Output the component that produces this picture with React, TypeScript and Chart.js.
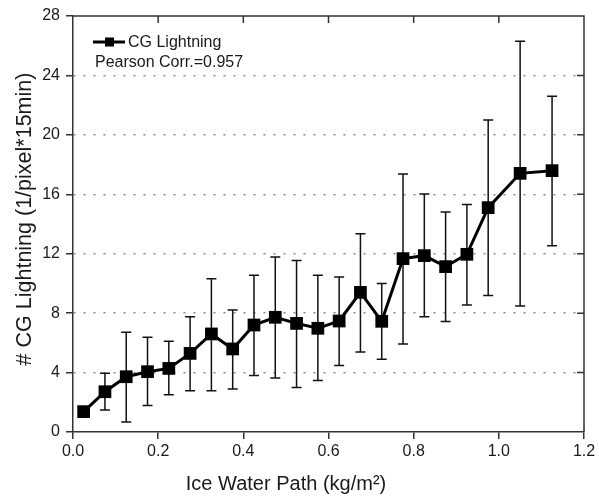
import React, { useEffect, useRef } from "react";
import { Chart, registerables } from "chart.js";

Chart.register(...registerables);

// Ice water path bin centres (kg/m^2)
const iwpBins = [
  0.025, 0.075, 0.125, 0.175, 0.225, 0.275, 0.325, 0.375, 0.425, 0.475, 0.525,
  0.575, 0.625, 0.675, 0.725, 0.775, 0.825, 0.875, 0.925, 0.975, 1.05, 1.125,
];
// Mean CG lightning per bin (1/pixel*15min)
const cgMean = [
  1.37, 2.71, 3.72, 4.06, 4.28, 5.29, 6.6, 5.59, 7.2, 7.72, 7.31, 6.98, 7.47,
  9.4, 7.45, 11.67, 11.87, 11.13, 11.96, 15.1, 17.41, 17.59,
];
// Upper and lower ends of the error bars
const cgUpper = [
  1.65, 3.95, 6.71, 6.37, 6.1, 7.76, 10.32, 8.21, 10.55, 11.78, 11.55, 10.55,
  10.43, 13.35, 10.0, 17.37, 16.02, 14.81, 15.32, 21.0, 26.3, 22.6,
];
const cgLower = [
  1.1, 1.48, 0.67, 1.79, 2.51, 2.78, 2.78, 2.89, 3.81, 3.63, 3.0, 3.46, 4.47,
  5.38, 4.89, 5.92, 7.76, 7.43, 8.55, 9.18, 8.48, 12.54,
];
const xTicks = [0, 0.2, 0.4, 0.6, 0.8, 1.0, 1.2];
const yTicks = [0, 4, 8, 12, 16, 20, 24, 28];
const seriesName = "CG Lightning";
const corrText = "Pearson Corr.=0.957";
const xTitle = "Ice Water Path (kg/m\u00B2)";
const yTitle = "# CG Lightning (1/pixel*15min)";

const FONT = "'Liberation Sans', Arial, Helvetica, sans-serif";
const INK = "#1a1a1a";
const AXIS = "#333333";

const framePlugin = {
  id: "frame",
  beforeDatasetsDraw(chart: any) {
    const { ctx, scales } = chart;
    const x = scales.x;
    const y = scales.y;
    ctx.save();
    ctx.strokeStyle = "#111";
    ctx.lineWidth = 1.5;
    for (let i = 0; i < iwpBins.length; i++) {
      const px = x.getPixelForValue(iwpBins[i]);
      const top = y.getPixelForValue(cgUpper[i]);
      const bot = y.getPixelForValue(cgLower[i]);
      ctx.beginPath();
      ctx.moveTo(px, top);
      ctx.lineTo(px, bot);
      ctx.moveTo(px - 5, top);
      ctx.lineTo(px + 5, top);
      ctx.moveTo(px - 5, bot);
      ctx.lineTo(px + 5, bot);
      ctx.stroke();
    }
    ctx.restore();
  },
  afterDraw(chart: any) {
    const { ctx, chartArea, scales } = chart;
    const { left, right, top, bottom } = chartArea;
    ctx.save();
    // top and right axis lines with inward ticks
    ctx.strokeStyle = AXIS;
    ctx.lineWidth = 1.5;
    ctx.beginPath();
    ctx.moveTo(left, top);
    ctx.lineTo(right, top);
    ctx.lineTo(right, bottom);
    for (const v of xTicks) {
      if (v === 0 || v === 1.2) continue;
      const px = scales.x.getPixelForValue(v);
      ctx.moveTo(px, top);
      ctx.lineTo(px, top + 7);
    }
    for (const v of yTicks) {
      if (v === 0 || v === 28) continue;
      const py = scales.y.getPixelForValue(v);
      ctx.moveTo(right, py);
      ctx.lineTo(right - 7, py);
    }
    ctx.stroke();

    // legend
    ctx.strokeStyle = "#000";
    ctx.lineWidth = 3;
    ctx.beginPath();
    ctx.moveTo(left + 20, top + 26);
    ctx.lineTo(left + 52, top + 26);
    ctx.stroke();
    ctx.fillStyle = "#000";
    ctx.fillRect(left + 32, top + 21.5, 9, 9);
    ctx.fillStyle = INK;
    ctx.font = `16px ${FONT}`;
    ctx.textAlign = "left";
    ctx.textBaseline = "alphabetic";
    ctx.fillText(seriesName, left + 55, top + 31);
    ctx.fillText(corrText, left + 22, top + 51);

    // axis titles
    ctx.font = `20px ${FONT}`;
    ctx.textAlign = "center";
    ctx.fillText(xTitle, 286, 490);
    ctx.font = `21.5px ${FONT}`;
    ctx.translate(31, 219);
    ctx.rotate(-Math.PI / 2);
    ctx.textBaseline = "alphabetic";
    ctx.fillText(yTitle, 0, 0);
    ctx.restore();
  },
};

export default function App() {
  const ref = useRef<HTMLCanvasElement>(null);

  useEffect(() => {
    const canvas = ref.current;
    if (!canvas) return;
    const chart = new Chart(canvas, {
      type: "line",
      data: {
        datasets: [
          {
            label: seriesName,
            data: iwpBins.map((x, i) => ({ x, y: cgMean[i] })),
            borderColor: "#000",
            backgroundColor: "#000",
            borderWidth: 3,
            pointStyle: "rect",
            pointRadius: 9,
            pointHoverRadius: 9,
            pointBorderWidth: 0,
            tension: 0,
          },
        ],
      },
      options: {
        responsive: false,
        animation: false,
        events: [],
        devicePixelRatio: 1,
        layout: { padding: { top: 16, right: 15, left: 0, bottom: 0 } },
        plugins: {
          legend: { display: false },
          tooltip: { enabled: false },
          title: { display: false },
        },
        scales: {
          x: {
            type: "linear",
            min: 0,
            max: 1.2,
            afterBuildTicks: (s: any) => {
              s.ticks = xTicks.map((value) => ({ value }));
            },
            afterFit: (s: any) => {
              s.height = 64;
            },
            ticks: {
              color: INK,
              font: { family: FONT, size: 16 },
              padding: 3,
              maxRotation: 0,
              autoSkip: false,
              callback: (v: any) => Number(v).toFixed(1),
            },
            grid: {
              drawOnChartArea: false,
              drawTicks: true,
              tickLength: 7,
              color: AXIS,
              lineWidth: 1.5,
            },
            border: { display: true, color: AXIS, width: 1.5 },
          },
          y: {
            type: "linear",
            min: 0,
            max: 28,
            afterBuildTicks: (s: any) => {
              s.ticks = yTicks.map((value) => ({ value }));
            },
            afterFit: (s: any) => {
              s.width = 73;
            },
            ticks: {
              color: INK,
              font: { family: FONT, size: 16 },
              padding: 6,
              autoSkip: false,
            },
            grid: {
              drawOnChartArea: true,
              drawTicks: true,
              tickLength: 7,
              lineWidth: 1.5,
              color: (c: any) =>
                c.tick && (c.tick.value === 0 || c.tick.value === 28)
                  ? "rgba(0,0,0,0)"
                  : "#8a8a8a",
              tickColor: AXIS,
              tickBorderDash: [],
            },
            border: { display: true, color: AXIS, width: 1.5, dash: [2, 8], dashOffset: -10 },
          },
        },
      },
      plugins: [framePlugin],
    });
    return () => chart.destroy();
  }, []);

  return (
    <div style={{ position: "absolute", left: 0, top: 0, width: 599, height: 496, background: "#fff" }}>
      <canvas ref={ref} width={599} height={496} style={{ width: 599, height: 496, display: "block" }} />
    </div>
  );
}
